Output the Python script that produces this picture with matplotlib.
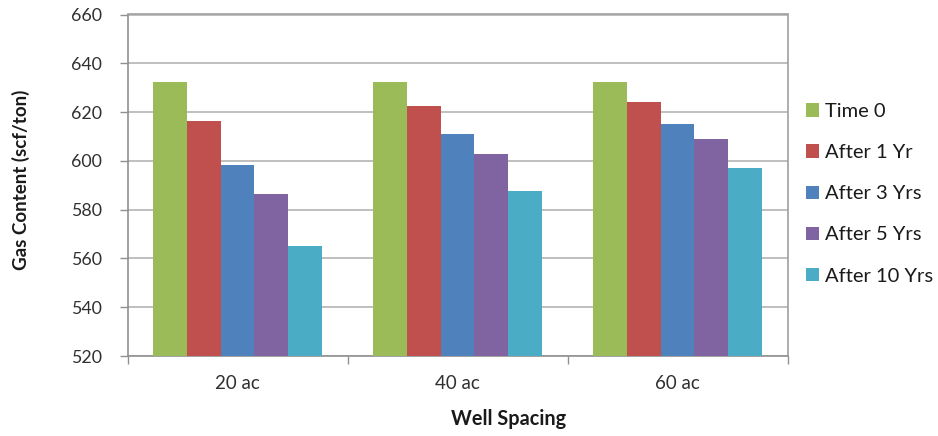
import matplotlib
matplotlib.use("Agg")
import matplotlib.pyplot as plt
import numpy as np

plt.rcParams['font.family'] = ['Lato', 'DejaVu Sans']

categories = ["20 ac", "40 ac", "60 ac"]
series_names = ["Time 0", "After 1 Yr", "After 3 Yrs", "After 5 Yrs", "After 10 Yrs"]
time0 = [632.2, 632.2, 632.2]
after_1yr = [616.2, 622.3, 624.3]
after_3yrs = [598.5, 611.0, 615.2]
after_5yrs = [586.3, 603.0, 608.8]
after_10yrs = [565.3, 587.8, 596.9]
series_values = [time0, after_1yr, after_3yrs, after_5yrs, after_10yrs]
colors = ["#9BBB59", "#C0504D", "#4F81BD", "#8064A2", "#4BACC6"]
y_ticks = [520, 540, 560, 580, 600, 620, 640, 660]

fig = plt.figure(figsize=(9.38, 4.36), dpi=100)
ax = fig.add_axes([127.5 / 938, 1 - 356 / 436, (787.5 - 127.5) / 938, (356 - 14.5) / 436])

x = np.arange(len(categories))
bar_w = 0.153
n = len(series_values)
for i, (name, vals, c) in enumerate(zip(series_names, series_values, colors)):
    offs = (i - (n - 1) / 2) * bar_w
    ax.bar(x + offs, vals, width=bar_w, color=c, label=name, zorder=3, linewidth=0)

ax.set_xlim(-0.5, len(categories) - 0.5)
ax.set_ylim(520, 660)
ax.set_yticks(y_ticks)
ax.set_yticklabels([str(v) for v in y_ticks])
ax.yaxis.grid(True, color="#b4b4b4", linewidth=1.2, zorder=0)

# category labels centred, tick marks on the category boundaries
ax.set_xticks(x)
ax.set_xticklabels(categories)
ax.tick_params(axis='x', which='major', length=0, pad=14, labelsize=13.5, labelcolor="#303030")
ax.set_xticks(np.arange(-0.5, len(categories) + 0.5, 1), minor=True)
ax.tick_params(axis='x', which='minor', length=6, width=1, color="#909090", direction='out')
ax.tick_params(axis='y', length=6, width=1, color="#909090", direction='out', pad=12.5,
               labelsize=12.8, labelcolor="#303030")

for side, sp in ax.spines.items():
    sp.set_color("#a0a0a0")
    sp.set_linewidth(1.2)
ax.spines['left'].set_color("#909090")
ax.spines['bottom'].set_color("#909090")

fig.text(21 / 938, 1 - 180 / 436, "Gas Content (scf/ton)", rotation=90, ha='center', va='center',
         fontsize=13.5, fontweight='bold', color="#1a1a1a")
fig.text(509 / 938, 1 - 419 / 436, "Well Spacing", ha='center', va='center',
         fontsize=14.3, fontweight='bold', color="#1a1a1a")

leg = fig.legend(loc='upper left', bbox_to_anchor=(806 / 938, 1 - 103 / 436), frameon=False,
                 fontsize=14.5, handlelength=0.65, handleheight=0.65, handletextpad=0.3,
                 labelspacing=1.2, borderaxespad=0, borderpad=0)
for t in leg.get_texts():
    t.set_color("#1a1a1a")

fig.savefig("out.png", dpi=100, facecolor="white")
